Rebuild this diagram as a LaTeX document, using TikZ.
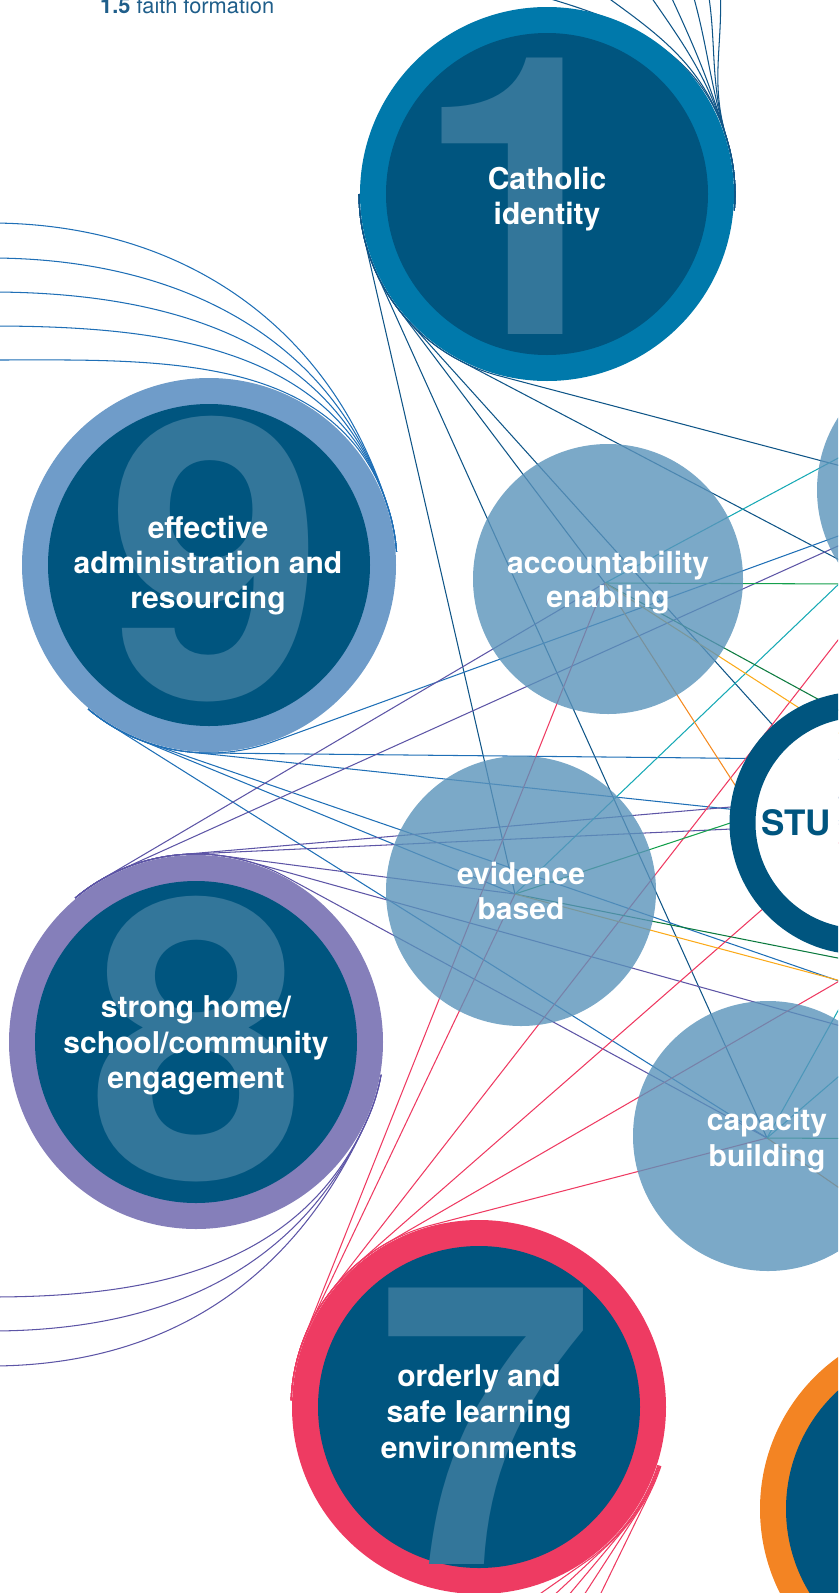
\documentclass[tikz,border=0pt]{standalone}
\usepackage{fontspec}
\setmainfont{TeX Gyre Heros}
\usetikzlibrary{calc}
\definecolor{ringA}{HTML}{0079AB}
\definecolor{innerB}{HTML}{00557F}
\definecolor{digitC}{HTML}{33769A}
\definecolor{ringNine}{HTML}{6F9CC9}
\definecolor{ringEight}{HTML}{857FBA}
\definecolor{ringSeven}{HTML}{EE3B62}
\definecolor{ringSix}{HTML}{F38423}
\definecolor{hubC}{HTML}{5A93BA}
\definecolor{lnOne}{HTML}{0F5587}
\definecolor{lnNine}{HTML}{1F6FB6}
\definecolor{lnEight}{HTML}{5D55A6}
\definecolor{lnSeven}{HTML}{EE3B62}
\definecolor{lnTeal}{HTML}{17A9B5}
\definecolor{lnGreen}{HTML}{14A04C}
\definecolor{lnDGreen}{HTML}{0B7A3E}
\definecolor{lnOrange}{HTML}{F58A1F}
\definecolor{lnYellow}{HTML}{FBAA1A}
\definecolor{titleC}{HTML}{1F5E8A}
% wrap along a circle (counter-clockwise / clockwise), then straight to the target along the tangent
\newcommand\wrapccw[5]{\draw[#1] let \p1=($(#5)-(#2)$), \n1={atan2(\y1,\x1)-acos(#3/veclen(\x1,\y1))}, \n2={#4+mod(\n1-#4+720,360)} in ($(#2)+(#4:#3)$) arc[start angle=#4, end angle=\n2, radius=#3] -- (#5);}
\newcommand\wrapcw[5]{\draw[#1] let \p1=($(#5)-(#2)$), \n1={atan2(\y1,\x1)+acos(#3/veclen(\x1,\y1))}, \n2={#4-mod(#4-\n1+720,360)} in ($(#2)+(#4:#3)$) arc[start angle=#4, end angle=\n2, radius=#3] -- (#5);}
\newcommand\wrapcwdir[6]{\draw[#1] ($(#2)+(#4:#3)$) arc[start angle=#4, end angle=#5, radius=#3] -- ++({#5-90}:#6);}
\begin{document}
\begin{tikzpicture}[x=1pt,y=1pt,
  ln/.style={line width=1.05pt},
  l1/.style={ln, draw=lnOne},
  l9/.style={ln, draw=lnNine},
  l8/.style={ln, draw=lnEight},
  l7/.style={ln, draw=lnSeven},
  lT/.style={ln, draw=lnTeal},
  lG/.style={ln, draw=lnGreen},
  lDG/.style={ln, draw=lnDGreen},
  lO/.style={ln, draw=lnOrange},
  lY/.style={ln, draw=lnYellow},
  ring/.style={circle, inner sep=0pt, outer sep=0pt, minimum size=374pt, fill=#1},
  core/.style={circle, inner sep=0pt, outer sep=0pt, minimum size=322pt, fill=innerB},
  digit/.style={inner sep=0pt, anchor=base, text=digitC, font=\fontsize{390}{390}\selectfont\bfseries},
  lbl/.style={inner sep=0pt, anchor=base, text=white, font=\fontsize{30}{35}\selectfont\bfseries},
  hub/.style={circle, inner sep=0pt, outer sep=0pt, minimum size=270pt, fill=hubC, fill opacity=0.8},
  ttl/.style={inner sep=0pt, anchor=base west, text=titleC, font=\fontsize{21.8}{26}\selectfont}
]
\useasboundingbox (0,0) rectangle (838,-1593);
\clip (0,0) rectangle (838,-1593);
% centres
\coordinate (c1) at (547,-194);
\coordinate (c9) at (209,-565);
\coordinate (c8) at (196,-1042);
\coordinate (c7) at (479,-1407);
\coordinate (c6) at (947,-1509);
\coordinate (stu) at (861,-823);
\coordinate (hA) at (605,-583);
\coordinate (hE) at (515,-894);
\coordinate (hC) at (767,-1138);
\coordinate (hT) at (951,-495);
% far (off-page) ends
\coordinate (fA) at (1011,-650);
\coordinate (fB) at (1100,-762);
\coordinate (fC) at (1100,-1071);
\coordinate (fD) at (1100,-775);
\coordinate (fE) at (1100,-1098);
\coordinate (fF) at (1100,-830);
\coordinate (gA) at (1150,-291);
\coordinate (gB) at (1100,-334);
\coordinate (gC) at (950,-810);
\coordinate (gD) at (1000,-938);
\coordinate (gE) at (1100,-585);
\coordinate (gF) at (880,-733);
\coordinate (gG) at (800,-886);
\coordinate (gH) at (880,-760);
\coordinate (gI) at (800,-800);
\coordinate (gJ) at (1100,-1010);
\coordinate (gK) at (1100,-1050);
\coordinate (gL) at (1000,-1299);
\coordinate (gM) at (1100,-1140);
% ends of the curves to the lists
\coordinate (e1a) at (468,25);
\coordinate (e1b) at (577,25);
\coordinate (e1c) at (636,25);
\coordinate (e1d) at (661,25);
\coordinate (e1e) at (687,25);
\coordinate (e1f) at (705,25);
\coordinate (e1g) at (719,25);
\coordinate (e9a) at (-10,-223);
\coordinate (e9b) at (-10,-258);
\coordinate (e9c) at (-10,-292);
\coordinate (e9d) at (-10,-326);
\coordinate (e9e) at (-10,-360);
\coordinate (e8a) at (-10,-1297);
\coordinate (e8b) at (-10,-1331);
\coordinate (e8c) at (-10,-1366);

% ---- connectors ----
% circle 1
\foreach \e/\a in {e1a/-17,e1b/-37,e1c/-56,e1d/-65,e1e/-72,e1f/-78,e1g/-84}
  \draw[l1] ($(c1)+(-5:188)$) arc[start angle=-5, end angle=17, radius=188] to[out=107,in=\a] (\e);
\wrapccw{l1}{c1}{188}{180}{hE}
\wrapccw{l1}{c1}{188}{180}{hC}
\wrapccw{l1}{c1}{188}{180}{stu}
\wrapccw{l1}{c1}{188}{180}{hA}
\wrapccw{l1}{c1}{188}{180}{fA}
\wrapccw{l1}{c1}{188}{180}{hT}
% circle 9
\foreach \e in {e9a,e9b,e9c,e9d,e9e}
  \draw[l9] ($(c9)+(4:188)$) arc[start angle=4, end angle=17, radius=188] to[out=107,in=0] (\e);
\wrapccw{l9}{c9}{188}{230}{fB}
\wrapccw{l9}{c9}{188}{230}{stu}
\wrapccw{l9}{c9}{188}{230}{hE}
\wrapccw{l9}{c9}{188}{230}{hC}
\wrapccw{l9}{c9}{188}{230}{fC}
\wrapccw{l9}{c9}{188}{230}{hT}
% circle 8
\foreach \e in {e8a,e8b,e8c}
  \draw[l8] ($(c8)+(-10:188)$) arc[start angle=-10, end angle=-24, radius=188] to[out=246,in=0] (\e);
\wrapcw{l8}{c8}{188}{130}{hT}
\wrapcw{l8}{c8}{188}{130}{hA}
\wrapcw{l8}{c8}{188}{130}{stu}
\wrapcw{l8}{c8}{188}{130}{fD}
\wrapcw{l8}{c8}{188}{130}{fE}
\wrapcw{l8}{c8}{188}{130}{hE}
\wrapcw{l8}{c8}{188}{130}{hC}
% circle 7
\wrapcw{l7}{c7}{188}{178}{hA}
\wrapcw{l7}{c7}{188}{178}{hE}
\wrapcw{l7}{c7}{188}{178}{hT}
\wrapcw{l7}{c7}{188}{178}{stu}
\wrapcw{l7}{c7}{188}{178}{hC}
\wrapcw{l7}{c7}{188}{178}{fF}
\wrapcwdir{l7}{c7}{188}{-18}{-55}{220}
\wrapcwdir{l7}{c7}{188.8}{-18}{-47}{220}
\wrapcwdir{l7}{c7}{189.6}{-18}{-40}{220}
\wrapcwdir{l7}{c7}{190.4}{-18}{-33}{220}
\wrapcwdir{l7}{c7}{191.2}{-18}{-26}{220}
% from the circles off the page to the right
\draw[lT] (gA) -- (hA);
\draw[lT] (gB) -- (hE);
\draw[lT] (gC) -- (hC);
\draw[lT] (gD) -- (hC);
\draw[lG] (gE) -- (hA);
\draw[lDG] (gF) -- (hA);
\draw[lO] (gG) -- (hA);
\draw[lY] (gH) -- (hA);
\draw[lG] (gI) -- (hE);
\draw[lDG] (gJ) -- (hE);
\draw[lY] (gK) -- (hE);
\draw[lO] (gL) -- (hC);
\draw[lG] (gM) -- (hC);

% ---- hubs ----
\node[hub] (hubA) at (608,-579) {};
\node[hub] (hubE) at (521,-891) {};
\node[hub] (hubC) at (768,-1136) {};
\node[hub] (hubT) at (952,-490) {};

% ---- numbered circles ----
\node[ring=ringA] (n1) at (c1) {};
\node[core] (n1i) at (c1) {};
\node[digit] (d1) at (524,-334) {1};
\node[ring=ringNine] (n9) at (c9) {};
\node[core] (n9i) at (c9) {};
\node[digit] (d9) at (216,-698) {9};
\node[ring=ringEight] (n8) at (c8) {};
\node[core] (n8i) at (c8) {};
\node[digit] (d8) at (198,-1178) {8};
\node[ring=ringSeven] (n7) at (c7) {};
\node[core] (n7i) at (c7) {};
\node[digit] (d7) at (486,-1564) {7};
\node[ring=ringSix] (n6) at (c6) {};
\node[core] (n6i) at (c6) {};
% centre
\node[circle, inner sep=0pt, outer sep=0pt, minimum size=237pt, draw=innerB, line width=26pt, fill=white] (stuN) at (stu) {};
\node[inner sep=0pt, anchor=base west, text=innerB, font=\fontsize{35}{40}\selectfont\bfseries] (stuT) at (761,-835) {STU};

% ---- labels ----
\node[lbl] (t1a) at (547,-189) {Catholic};
\node[lbl] (t1b) at (547,-224) {identity};
\node[lbl] (t9a) at (208,-538) {effective};
\node[lbl] (t9b) at (208,-573) {administration and};
\node[lbl] (t9c) at (208,-608) {resourcing};
\node[lbl] (t8a) at (196,-1017) {strong home/};
\node[lbl] (t8b) at (196,-1053) {school/community};
\node[lbl] (t8c) at (196,-1088) {engagement};
\node[lbl] (t7a) at (479,-1386) {orderly and};
\node[lbl] (t7b) at (479,-1422) {safe learning};
\node[lbl] (t7c) at (479,-1458) {environments};
\node[lbl] (tAa) at (608,-573) {accountability};
\node[lbl] (tAb) at (608,-607) {enabling};
\node[lbl] (tEa) at (521,-884) {evidence};
\node[lbl] (tEb) at (521,-919) {based};
\node[lbl] (tCa) at (767,-1130) {capacity};
\node[lbl] (tCb) at (767,-1166) {building};
\node[ttl] (ttlN) at (100,-13) {\textbf{1.5} faith formation};
\end{tikzpicture}
\end{document}
